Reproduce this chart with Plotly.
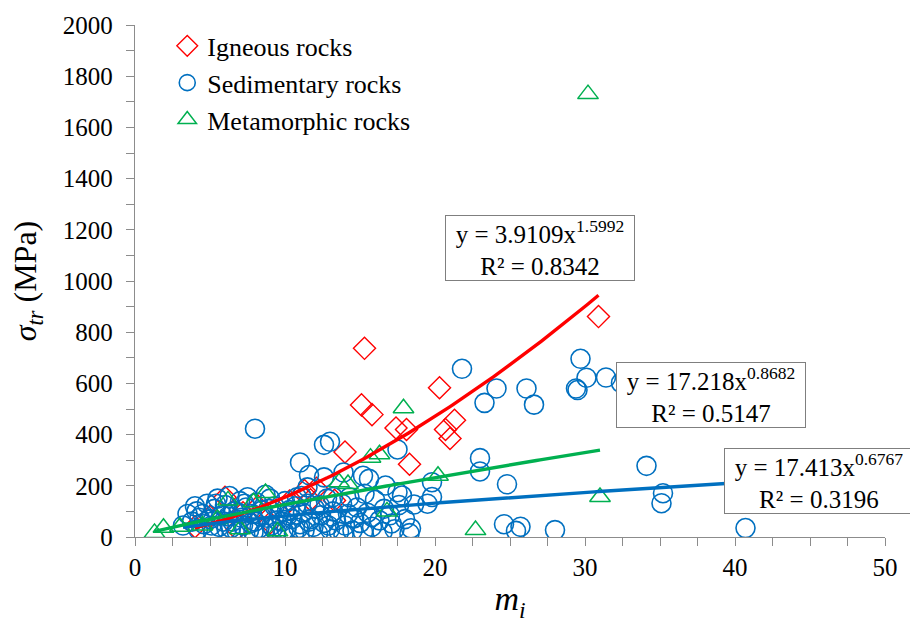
import numpy as np
import plotly.graph_objects as go

# ---- measured data: m_i vs sigma_tr (MPa) ----
igneous_mi = [30.9, 20.3, 21.3, 20.7, 21.0, 15.3, 15.1, 15.8, 17.4, 18.1, 14.0, 18.3,
              4.0, 5.0, 6.0, 7.2, 8.2, 9.0, 10.3, 11.7, 12.1, 6.8, 11.3, 13.3]
igneous_s = [861, 583, 456, 420, 385, 737, 516, 478, 426, 420, 332, 284,
             40, 80, 155, 95, 120, 55, 140, 145, 190, 30, 181, 143]

sedimentary_mi = [8.0, 11.0, 12.6, 13.0, 11.6, 11.5, 17.5, 13.9, 15.2, 15.6, 16.7, 17.5,
                  17.8, 19.8, 19.5, 18.6, 17.1, 18.4, 15.8, 14.6, 12.6, 13.2, 15.3,
                  21.8, 23.3, 24.1, 26.1, 26.6, 29.7, 29.4, 29.5, 30.1, 31.4, 32.4,
                  23.0, 23.0, 24.8, 34.1, 35.2, 35.1, 40.7, 19.8,
                  24.6, 25.4, 25.7, 28.0,
                  3.2, 3.8, 4.0, 4.2, 4.5, 4.6, 4.8, 5.0, 5.2, 5.3, 5.5, 5.6, 5.8, 6.0,
                  6.1, 6.3, 6.5, 6.6, 6.8, 7.0, 7.1, 7.2, 7.4, 7.5, 7.6, 7.8, 8.0, 8.1,
                  8.3, 8.5, 8.6, 8.8, 9.0, 9.1, 9.3, 9.4, 9.6, 9.8, 10.0, 10.1, 10.3,
                  10.5, 10.6, 10.8, 11.0, 11.2, 11.3, 11.5, 11.7, 11.9, 12.0, 12.2, 12.4,
                  12.6, 12.8, 13.0, 13.2, 13.4, 13.6, 13.8, 14.0, 14.2, 14.5, 14.8, 15.0,
                  15.2, 15.5, 15.8, 16.0, 16.3, 16.6, 17.0, 17.3, 17.6, 18.0, 18.3,
                  3.5, 4.3, 5.1, 5.9, 6.4, 6.9, 7.3, 7.9, 8.4, 8.9, 9.5, 10.2, 10.9,
                  11.6, 12.3, 13.1, 13.9, 14.6, 16.5, 6.2, 7.7, 9.2, 10.7, 12.9, 4.1,
                  5.4, 8.7, 9.9, 11.1, 14.3]
sedimentary_s = [423, 291, 360, 372, 242, 194, 342, 252, 239, 227, 201, 175,
                 162, 214, 130, 127, 53, 34, 78, 72, 233, 156, 169,
                 657, 524, 580, 580, 517, 696, 580, 574, 622, 623, 602,
                 308, 256, 206, 278, 171, 132, 35, 156,
                 50, 24, 40, 27,
                 45, 60, 120, 30, 90, 50, 130, 70, 20, 110, 150, 40, 85, 125,
                 30, 160, 60, 100, 20, 140, 75, 45, 115, 155, 25, 90, 60, 135,
                 35, 105, 15, 75, 150, 45, 120, 20, 90, 60, 140, 30, 105,
                 70, 15, 155, 50, 95, 25, 130, 70, 40, 110, 15, 85,
                 55, 150, 30, 100, 65, 20, 130, 45, 90, 25, 115, 55,
                 20, 95, 40, 145, 65, 110, 85, 30, 125, 70, 15,
                 90, 75, 45, 60, 35, 95, 130, 20, 80, 110, 65, 85, 35,
                 60, 125, 80, 10, 75, 20, 80, 55, 35, 120, 45, 100,
                 130, 165, 25, 160, 155]

metamorphic_mi = [30.2, 17.9, 15.7, 16.3, 20.2, 13.6, 14.2, 16.8, 31.0, 22.7, 8.7,
                  6.2, 7.9, 1.3, 1.9, 3.0, 9.5, 4.5, 5.5, 7.0]
metamorphic_s = [1730, 503, 310, 323, 239, 214, 207, 100, 156, 27, 172,
                 143, 136, 16, 36, 40, 22, 45, 70, 30]

# power-law trendlines y = a * x^b
fits = {
    "Igneous": (3.9109, 1.5992, 0.8342),
    "Sedimentary": (17.413, 0.6767, 0.3196),
    "Metamorphic": (17.218, 0.8682, 0.5147),
}

RED = "#FF0000"
BLUE = "#0070C0"
GREEN = "#00B050"
SERIF = "Liberation Serif"

fig = go.Figure()

fig.add_trace(go.Scatter(
    x=igneous_mi, y=igneous_s, mode="markers", name="Igneous rocks",
    legendgroup="ig",
    marker=dict(symbol="diamond-open", size=17, color=RED, line=dict(width=1.4, color=RED))))
fig.add_trace(go.Scatter(
    x=sedimentary_mi, y=sedimentary_s, mode="markers", name="Sedimentary rocks",
    legendgroup="sed",
    marker=dict(symbol="circle-open", size=19, color=BLUE, line=dict(width=1.6, color=BLUE))))
fig.add_trace(go.Scatter(
    x=metamorphic_mi, y=metamorphic_s, mode="markers", name="Metamorphic rocks",
    legendgroup="met",
    marker=dict(symbol="triangle-up-open", size=18, color=GREEN, line=dict(width=1.5, color=GREEN))))


def trend(xs, key):
    a, b, _ = fits[key]
    xx = np.linspace(min(xs), max(xs), 120)
    return xx, a * xx ** b


for xs, key, col in [(igneous_mi, "Igneous", RED),
                     (sedimentary_mi, "Sedimentary", BLUE),
                     (metamorphic_mi, "Metamorphic", GREEN)]:
    xx, yy = trend(xs, key)
    fig.add_trace(go.Scatter(x=xx, y=yy, mode="lines", showlegend=False,
                             line=dict(color=col, width=3.4), hoverinfo="skip"))


def eq_text(key):
    a, b, r2 = fits[key]
    return f"y = {a:g}x<sup>{b:.4f}</sup><br>R² = {r2:.4f}"


# equation boxes (paper coordinates)
boxes = [("Igneous", 0.5406, 0.5637), ("Metamorphic", 0.7682, 0.278), ("Sedimentary", 0.9118, 0.110)]
for key, px, py in boxes:
    fig.add_annotation(
        x=px, y=py, xref="paper", yref="paper", xanchor="center", yanchor="middle",
        text=eq_text(key), showarrow=False, align="center",
        font=dict(family=SERIF, size=25, color="black"),
        bgcolor="white", bordercolor="#7f7f7f", borderwidth=1, borderpad=2,
        width=184, height=60)

axis_common = dict(
    showgrid=False, zeroline=False, showline=True, linecolor="#8c8c8c", linewidth=1.3,
    ticks="outside", ticklen=8, tickcolor="#8c8c8c", tickwidth=1.2,
    tickfont=dict(family=SERIF, size=25, color="black"),
)

fig.update_layout(
    width=910, height=631,
    margin=dict(l=135, r=15, t=19, b=94),
    plot_bgcolor="white", paper_bgcolor="white",
    font=dict(family=SERIF, color="black"),
    xaxis=dict(range=[0, 50], dtick=10, tick0=0,
               minor=dict(dtick=2.5, ticks="outside", ticklen=8, tickcolor="#8c8c8c"),
               title=dict(text="<i>m<sub>i</sub></i>", font=dict(family=SERIF, size=34), standoff=6),
               **axis_common),
    yaxis=dict(range=[0, 2000], dtick=200, tick0=0,
               minor=dict(dtick=100, ticks="outside", ticklen=8, tickcolor="#8c8c8c"),
               title=dict(text="<i>σ<sub>tr</sub></i> (MPa)", font=dict(family=SERIF, size=32), standoff=16),
               ticklabelstandoff=8,
               **axis_common),
    legend=dict(x=0.043, y=1.005, xanchor="left", yanchor="top",
                font=dict(family=SERIF, size=26), bgcolor="rgba(0,0,0,0)",
                tracegroupgap=0, itemwidth=30),
    showlegend=True,
)

fig.write_html("out.html")
